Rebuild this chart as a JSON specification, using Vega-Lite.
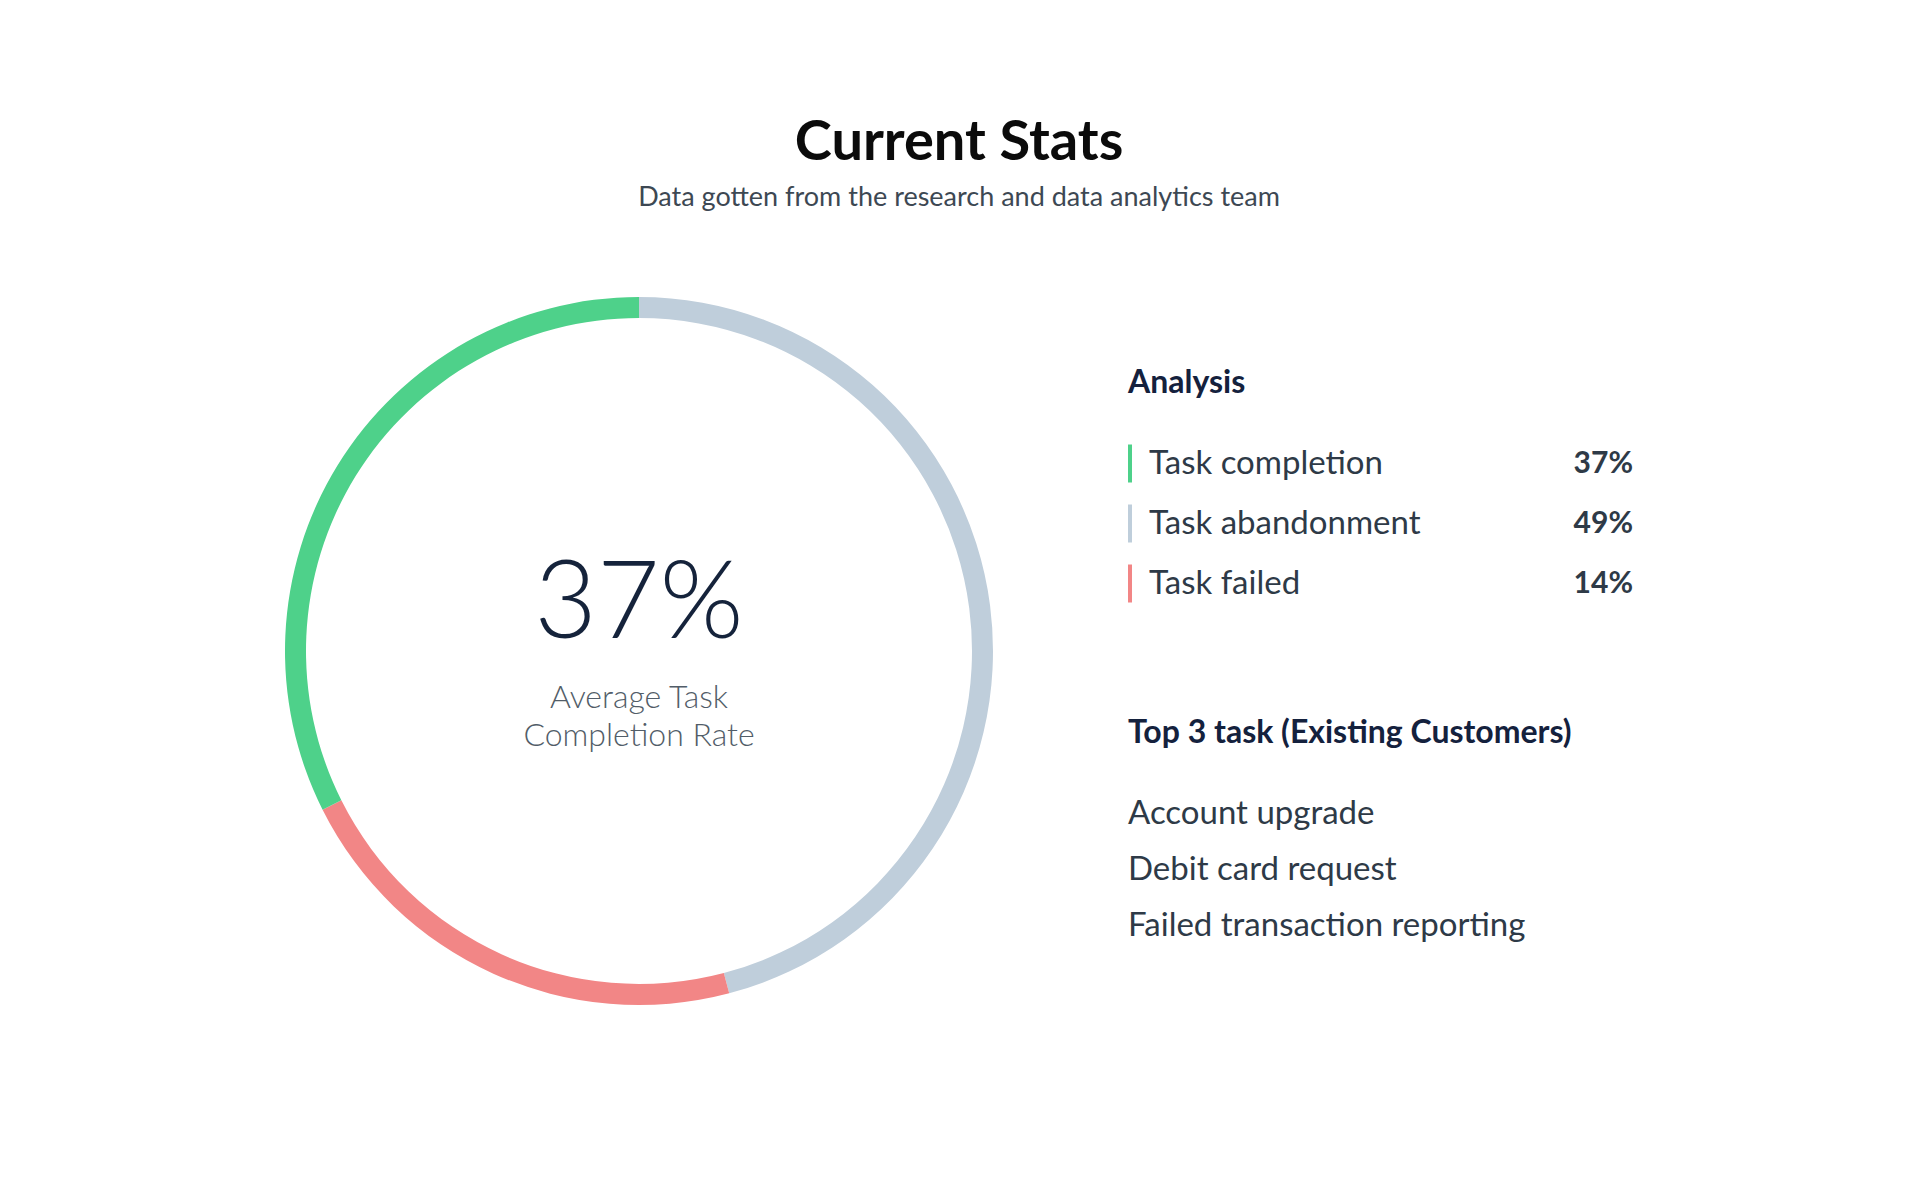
{
  "$schema": "https://vega.github.io/schema/vega-lite/v6.json",
  "background": "#ffffff",
  "padding": {"left": 285, "top": 115, "right": 10, "bottom": 10},
  "title": {
    "text": "Current Stats",
    "subtitle": "Data gotten from the research and data analytics team",
    "anchor": "middle",
    "font": "Lato",
    "fontSize": 56,
    "fontWeight": "bold",
    "color": "#0b0b0b",
    "subtitleFont": "Lato",
    "subtitleFontSize": 27,
    "subtitleFontWeight": 400,
    "subtitleColor": "#3d4853",
    "subtitlePadding": 13,
    "offset": 85
  },
  "spacing": 135,
  "hconcat": [
    {
      "width": 708,
      "height": 708,
      "layer": [
        {
          "data": {"values": [
            {"task": "Task abandonment", "share": 45.9, "seq": 1},
            {"task": "Task failed", "share": 21.7, "seq": 2},
            {"task": "Task completion", "share": 32.4, "seq": 3}
          ]},
          "mark": {"type": "arc", "outerRadius": 354, "innerRadius": 333},
          "encoding": {
            "theta": {"field": "share", "type": "quantitative", "stack": true},
            "order": {"field": "seq", "type": "quantitative"},
            "color": {
              "field": "task",
              "type": "nominal",
              "scale": {"domain": ["Task completion", "Task abandonment", "Task failed"], "range": ["#4ed18a", "#bfcedb", "#f28686"]},
              "legend": null
            }
          }
        },
        {
          "data": {"values": [{"kpi": "37%", "caption": "Average Task\nCompletion Rate"}]},
          "layer": [
            {
              "mark": {"type": "text", "font": "Lato", "fontSize": 108, "fontWeight": 300, "color": "#15233b", "baseline": "middle", "align": "center", "dy": -45},
              "encoding": {"text": {"field": "kpi"}}
            },
            {
              "mark": {"type": "text", "font": "Lato", "fontSize": 32, "fontWeight": 300, "color": "#525d68", "baseline": "middle", "align": "center", "dy": 47, "lineBreak": "\n", "lineHeight": 38},
              "encoding": {"text": {"field": "caption"}}
            }
          ]
        }
      ]
    },
    {
      "spacing": 113,
      "vconcat": [
        {
          "title": {"text": "Analysis", "anchor": "start", "font": "Lato", "fontSize": 32, "fontWeight": "bold", "color": "#14213d", "offset": -103},
          "width": 505,
          "height": 300,
          "data": {"values": [
            {"task": "Task completion", "pct": "37%"},
            {"task": "Task abandonment", "pct": "49%"},
            {"task": "Task failed", "pct": "14%"}
          ]},
          "encoding": {
            "y": {"field": "task", "type": "nominal", "sort": null, "axis": null, "scale": {"paddingInner": 0, "paddingOuter": 1, "align": 1}}
          },
          "layer": [
            {
              "mark": {"type": "tick", "orient": "vertical", "thickness": 4, "size": 38, "xOffset": 2, "yOffset": 16.5, "opacity": 1},
              "encoding": {
                "x": {"datum": 0, "type": "quantitative", "scale": {"domain": [0, 1]}, "axis": null},
                "color": {
                  "field": "task",
                  "type": "nominal",
                  "scale": {"domain": ["Task completion", "Task abandonment", "Task failed"], "range": ["#4ed18a", "#bfcedb", "#f28686"]},
                  "legend": null
                }
              }
            },
            {
              "mark": {"type": "text", "font": "Lato", "align": "left", "baseline": "middle", "dx": 21, "dy": 16.5, "fontSize": 33, "color": "#2e3a47"},
              "encoding": {
                "x": {"datum": 0, "type": "quantitative"},
                "text": {"field": "task"}
              }
            },
            {
              "mark": {"type": "text", "font": "Lato", "align": "right", "baseline": "middle", "dy": 16.5, "fontSize": 30, "fontWeight": "bold", "color": "#2e3a47"},
              "encoding": {
                "x": {"datum": 1, "type": "quantitative"},
                "text": {"field": "pct"}
              }
            }
          ]
        },
        {
          "title": {"text": "Top 3 task (Existing Customers)", "anchor": "start", "font": "Lato", "fontSize": 32, "fontWeight": "bold", "color": "#14213d", "offset": 36.5},
          "width": 505,
          "height": 168,
          "data": {"values": [
            {"task": "Account upgrade"},
            {"task": "Debit card request"},
            {"task": "Failed transaction reporting"}
          ]},
          "mark": {"type": "text", "font": "Lato", "align": "left", "baseline": "middle", "fontSize": 33, "color": "#2e3a47"},
          "encoding": {
            "y": {"field": "task", "type": "nominal", "sort": null, "axis": null, "scale": {"paddingInner": 0, "paddingOuter": 0}},
            "x": {"datum": 0, "type": "quantitative", "scale": {"domain": [0, 1]}, "axis": null},
            "text": {"field": "task"}
          }
        }
      ]
    }
  ],
  "config": {"view": {"stroke": null}, "font": "Lato"}
}
